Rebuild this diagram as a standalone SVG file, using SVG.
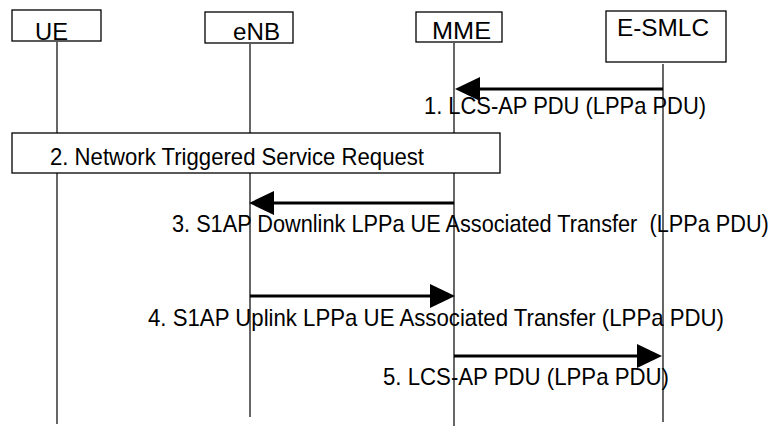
<svg xmlns="http://www.w3.org/2000/svg" width="777" height="426" viewBox="0 0 777 426">
<defs>
<style>
.box{fill:#fff;stroke:#000;stroke-width:1.3}
.life{stroke:#000;stroke-width:1.2;fill:none}
.msg{stroke:#000;stroke-width:3;fill:none}
.head{fill:#000;stroke:none}
.hdr{font-family:"Liberation Sans",Arial,sans-serif;font-size:24px;fill:#000}
.lbl{font-family:"Liberation Sans",Arial,sans-serif;font-size:24px;fill:#000}
</style>
</defs>
<rect width="777" height="426" fill="#fff"/>
<g id="lifelines">
<line class="life" x1="57" y1="42" x2="57" y2="424"/>
<line class="life" x1="250" y1="44" x2="250" y2="417"/>
<line class="life" x1="454" y1="43" x2="454" y2="426"/>
<line class="life" x1="663" y1="64" x2="663" y2="422"/>
</g>
<g id="UE">
<rect class="box" x="12" y="10" width="89" height="31"/>
<text class="hdr" x="35" y="40" textLength="33" lengthAdjust="spacingAndGlyphs">UE</text>
</g>
<g id="eNB">
<rect class="box" x="205" y="12" width="88" height="31"/>
<text class="hdr" x="233" y="40" textLength="47" lengthAdjust="spacingAndGlyphs">eNB</text>
</g>
<g id="MME">
<rect class="box" x="416" y="12" width="86" height="30"/>
<text class="hdr" x="432" y="39" textLength="59" lengthAdjust="spacingAndGlyphs">MME</text>
</g>
<g id="E-SMLC">
<rect class="box" x="606" y="11" width="120" height="51"/>
<text class="hdr" x="617" y="36" textLength="92" lengthAdjust="spacingAndGlyphs">E-SMLC</text>
</g>
<g id="step2">
<rect class="box" x="12" y="133" width="488" height="40"/>
<text class="lbl" x="50" y="165" textLength="374" lengthAdjust="spacingAndGlyphs">2. Network Triggered Service Request</text>
</g>
<g id="connectors">
<line class="msg" x1="663" y1="89" x2="478" y2="89"/>
<polygon class="head" points="455,89 480,77 480,101"/>
<line class="msg" x1="454" y1="203" x2="272" y2="203"/>
<polygon class="head" points="249,203 274,191 274,215"/>
<line class="msg" x1="250" y1="296" x2="432" y2="296"/>
<polygon class="head" points="455,296 430,284 430,308"/>
<line class="msg" x1="454" y1="356" x2="639" y2="356"/>
<polygon class="head" points="662,356 637,344 637,368"/>
</g>
<g id="labels">
<text class="lbl" x="424" y="114" textLength="282" lengthAdjust="spacingAndGlyphs">1. LCS-AP PDU (LPPa PDU)</text>
<text class="lbl" transform="translate(172,232) scale(0.905,1)" x="0" y="0" xml:space="preserve">3. S1AP Downlink LPPa UE Associated Transfer  (LPPa PDU)</text>
<text class="lbl" x="148" y="326" textLength="576" lengthAdjust="spacingAndGlyphs">4. S1AP Uplink LPPa UE Associated Transfer (LPPa PDU)</text>
<text class="lbl" x="383" y="385" textLength="286" lengthAdjust="spacingAndGlyphs">5. LCS-AP PDU (LPPa PDU)</text>
</g>
</svg>
